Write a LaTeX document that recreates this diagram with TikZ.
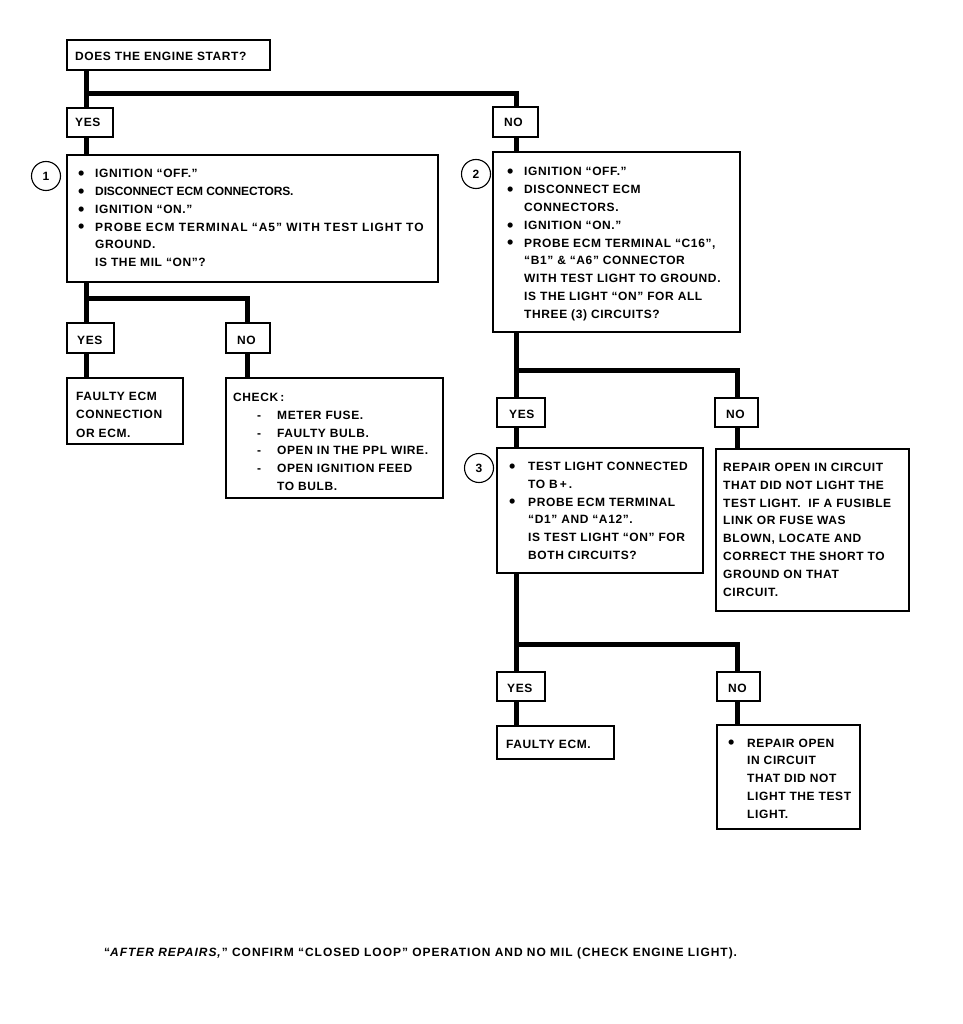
\documentclass[tikz,border=0pt]{standalone}
\usepackage{fontspec}
\usepackage{graphicx}
\setmainfont{Liberation Sans}[LetterSpace=5]
\usetikzlibrary{fit,calc}
\newcommand{\fs}{\fontsize{12}{17.8}\selectfont\bfseries}
\newcommand{\tl}[1]{\begin{tabular}[t]{@{}l@{}}#1\end{tabular}}
\newcommand{\bdot}{\raisebox{-1.8pt}{\scalebox{1.5}{\textbullet}}}
\newcommand{\bl}[1]{\makebox[17pt][l]{\bdot}#1}
\newcommand{\ct}[1]{\hspace*{17pt}#1}
\newcommand{\bk}[1]{\makebox[19pt][l]{\bdot}#1}
\newcommand{\ck}[1]{\hspace*{19pt}#1}
\newcommand{\dl}[1]{\hspace*{24pt}\makebox[20pt][l]{-}#1}
\begin{document}
\begin{tikzpicture}[x=1pt,y=-1pt,
  box/.style={draw, line width=1.1pt, inner sep=0pt},
  wire/.style={line width=5pt, line join=miter},
  txt/.style={anchor=base west, inner sep=0pt, font=\fs},
  num/.style={circle, draw, line width=1.1pt, minimum size=29pt, inner sep=0pt, font=\fs}]
\useasboundingbox[fill=white] (0,0) rectangle (962,1024);
% top question
\node[box, fit={(67,40) (270,70)}] (q) {};
\node[txt] (qt) at (75,61) {DOES THE ENGINE START?};
\coordinate (j1) at (86,94);
\coordinate (j2) at (516,94);
\node[box, fit={(67,108) (113,137)}] (yes1) {};
\node[txt] (yes1t) at (75,127) {YES};
\node[box, fit={(493,107) (538,137)}] (no1) {};
\node[txt] (no1t) at (504,127) {NO};
% box 1
\node[box, fit={(67,155) (438,282)}] (b1) {};
\node[num] (c1) at (46,176) {1};
\node[txt] (b1t) at (78,177.7) {\tl{\bl{IGNITION “OFF.”}\\\bl{{\addfontfeature{LetterSpace=-1}DISCONNECT ECM CONNECTORS.}}\\\bl{IGNITION “ON.”}\\\bl{{\addfontfeature{LetterSpace=8}PROBE ECM TERMINAL “A5” WITH TEST LIGHT TO}}\\\ct{GROUND.}\\\ct{IS THE MIL “ON”?}}};
% box 2
\node[box, fit={(493,152) (740,332)}] (b2) {};
\node[num] (c2) at (476,174) {2};
\node[txt] (b2t) at (507,176) {\tl{\bl{IGNITION “OFF.”}\\\bl{DISCONNECT ECM}\\\ct{CONNECTORS.}\\\bl{IGNITION “ON.”}\\\bl{PROBE ECM TERMINAL “C16”,}\\\ct{“B1” \& “A6” CONNECTOR}\\\ct{WITH TEST LIGHT TO GROUND.}\\\ct{IS THE LIGHT “ON” FOR ALL}\\\ct{THREE (3) CIRCUITS?}}};
% left sub branch
\coordinate (j3) at (86,298);
\coordinate (j4) at (247,298);
\node[box, fit={(67,323) (114,353)}] (yes2) {};
\node[txt] (yes2t) at (77,344) {YES};
\node[box, fit={(226,323) (270,353)}] (no2) {};
\node[txt] (no2t) at (237,344) {NO};
\node[box, fit={(67,378) (183,444)}] (f1) {};
\node[txt] (f1t) at (76,400) {\fontsize{12}{18.5}\selectfont\tl{FAULTY ECM\\CONNECTION\\OR ECM.}};
\node[box, fit={(226,378) (443,498)}] (chk) {};
\node[txt] (chkt) at (233,401.5) {\tl{CHECK\,:\\\dl{METER FUSE.}\\\dl{FAULTY BULB.}\\\dl{OPEN IN THE PPL WIRE.}\\\dl{OPEN IGNITION FEED}\\\hspace*{44pt}TO BULB.}};
% right sub branch
\coordinate (j5) at (516,370);
\coordinate (j6) at (737,370);
\node[box, fit={(497,398) (545,427)}] (yes3) {};
\node[txt] (yes3t) at (509,418) {YES};
\node[box, fit={(715,398) (758,427)}] (no3) {};
\node[txt] (no3t) at (726,418) {NO};
\node[box, fit={(497,448) (703,573)}] (b3) {};
\node[num] (c3) at (479,468) {3};
\node[txt] (b3t) at (509,470.5) {\tl{\bk{TEST LIGHT CONNECTED}\\\ck{TO B\,+\,.}\\\bk{PROBE ECM TERMINAL}\\\ck{“D1” AND “A12”.}\\\ck{IS TEST LIGHT “ON” FOR}\\\ck{BOTH CIRCUITS?}}};
\node[box, fit={(716,449) (909,611)}] (rep) {};
\node[txt] (rept) at (723,471.5) {\tl{REPAIR OPEN IN CIRCUIT\\THAT DID NOT LIGHT THE\\TEST LIGHT.\ \ IF A FUSIBLE\\LINK OR FUSE WAS\\BLOWN, LOCATE AND\\CORRECT THE SHORT TO\\GROUND ON THAT\\CIRCUIT.}};
% lower branch
\coordinate (j7) at (516,644);
\coordinate (j8) at (737,644);
\node[box, fit={(497,672) (545,701)}] (yes4) {};
\node[txt] (yes4t) at (507,692) {YES};
\node[box, fit={(717,672) (760,701)}] (no4) {};
\node[txt] (no4t) at (728,692) {NO};
\node[box, fit={(497,726) (614,759)}] (f2) {};
\node[txt] (f2t) at (506,748) {FAULTY ECM.};
\node[box, fit={(717,725) (860,829)}] (rep2) {};
\node[txt] (rep2t) at (728,747) {\tl{\bk{REPAIR OPEN}\\\ck{IN CIRCUIT}\\\ck{THAT DID NOT}\\\ck{LIGHT THE TEST}\\\ck{LIGHT.}}};
% footer
\node[txt] (foot) at (104,956) {\addfontfeature{LetterSpace=8}“\textit{AFTER REPAIRS,}” CONFIRM “CLOSED LOOP” OPERATION AND NO MIL (CHECK ENGINE LIGHT).};
% connectors
\draw[wire] (j1 |- q.south) -- (j1 |- yes1.north);
\draw[wire] (j1) -- (j2) -- (j2 |- no1.north);
\draw[wire] (j1 |- yes1.south) -- (j1 |- b1.north);
\draw[wire] (j2 |- no1.south) -- (j2 |- b2.north);
\draw[wire] (j3 |- b1.south) -- (j3 |- yes2.north);
\draw[wire] (j3) -- (j4) -- (j4 |- no2.north);
\draw[wire] (j3 |- yes2.south) -- (j3 |- f1.north);
\draw[wire] (j4 |- no2.south) -- (j4 |- chk.north);
\draw[wire] (j5 |- b2.south) -- (j5 |- yes3.north);
\draw[wire] (j5) -- (j6) -- (j6 |- no3.north);
\draw[wire] (j5 |- yes3.south) -- (j5 |- b3.north);
\draw[wire] (j6 |- no3.south) -- (j6 |- rep.north);
\draw[wire] (j7 |- b3.south) -- (j7 |- yes4.north);
\draw[wire] (j7) -- (j8) -- (j8 |- no4.north);
\draw[wire] (j7 |- yes4.south) -- (j7 |- f2.north);
\draw[wire] (j8 |- no4.south) -- (j8 |- rep2.north);
\end{tikzpicture}
\end{document}
